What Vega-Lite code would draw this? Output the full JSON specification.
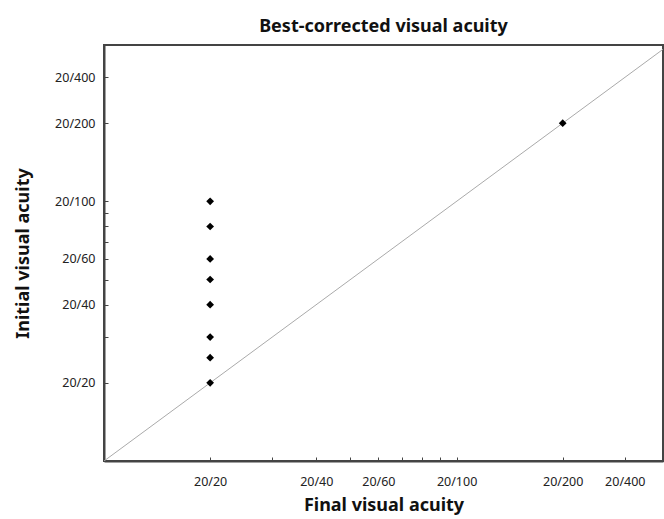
{
  "$schema": "https://vega.github.io/schema/vega-lite/v6.json",
  "width": 559,
  "height": 416,
  "autosize": "none",
  "padding": {"left": 104, "top": 45, "right": 1, "bottom": 58},
  "background": "white",
  "config": {
    "font": "Noto Sans",
    "view": {"stroke": "#444", "strokeWidth": 2},
    "axis": {
      "grid": false,
      "domainColor": "#444",
      "domainWidth": 2,
      "tickColor": "#444",
      "tickWidth": 1,
      "tickSize": -4,
      "labelFont": "Noto Sans",
      "labelFontSize": 12.5,
      "labelColor": "#222",
      "titleFont": "Noto Sans",
      "titleFontSize": 18,
      "titleFontWeight": "bold",
      "titleColor": "#111"
    }
  },
  "title": {
    "text": "Best-corrected visual acuity",
    "fontSize": 18,
    "fontWeight": "bold",
    "font": "Noto Sans",
    "color": "#111",
    "offset": 9
  },
  "layer": [
    {
      "data": {"values": [{"x": 10, "y": 10}, {"x": 385, "y": 385}]},
      "mark": {"type": "line", "color": "#aaa", "strokeWidth": 1, "clip": true},
      "encoding": {
        "x": {
          "field": "x", "type": "quantitative",
          "scale": {"type": "log", "domain": [10, 385], "nice": false, "zero": false},
          "axis": {
            "title": "Final visual acuity",
            "values": [20, 30, 40, 50, 60, 70, 80, 90, 100, 200, 300],
            "labelExpr": "datum.value == 20 ? '20/20' : datum.value == 40 ? '20/40' : datum.value == 60 ? '20/60' : datum.value == 100 ? '20/100' : datum.value == 200 ? '20/200' : datum.value == 300 ? '20/400' : ''",
            "labelPadding": 18,
            "titlePadding": 9
          }
        },
        "y": {
          "field": "y", "type": "quantitative",
          "scale": {"type": "log", "domain": [10, 400], "nice": false, "zero": false},
          "axis": {
            "title": "Initial visual acuity",
            "values": [20, 30, 40, 50, 60, 70, 80, 90, 100, 200, 300],
            "labelExpr": "datum.value == 20 ? '20/20' : datum.value == 40 ? '20/40' : datum.value == 60 ? '20/60' : datum.value == 100 ? '20/100' : datum.value == 200 ? '20/200' : datum.value == 300 ? '20/400' : ''",
            "labelPadding": 13,
            "titlePadding": 22
          }
        }
      }
    },
    {
      "data": {
        "values": [
          {"final": 20, "initial": 100},
          {"final": 20, "initial": 80},
          {"final": 20, "initial": 60},
          {"final": 20, "initial": 50},
          {"final": 20, "initial": 40},
          {"final": 20, "initial": 30},
          {"final": 20, "initial": 25},
          {"final": 20, "initial": 20},
          {"final": 200, "initial": 200}
        ]
      },
      "mark": {"type": "point", "shape": "diamond", "filled": true, "color": "black", "opacity": 1, "size": 60},
      "encoding": {
        "x": {"field": "final", "type": "quantitative"},
        "y": {"field": "initial", "type": "quantitative"}
      }
    }
  ]
}
